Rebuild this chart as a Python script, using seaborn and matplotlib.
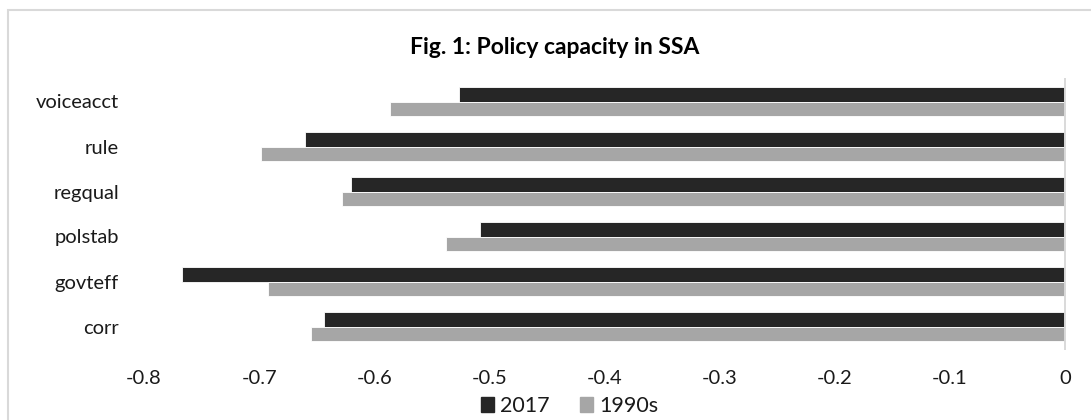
import matplotlib
matplotlib.use("Agg")
import matplotlib.pyplot as plt
import matplotlib.patches as mpatches
import pandas as pd
import seaborn as sns

# Governance indicators (WGI-style scores) for Sub-Saharan Africa
categories = ["voiceacct", "rule", "regqual", "polstab", "govteff", "corr"]
values_2017 = [-0.526, -0.660, -0.620, -0.508, -0.767, -0.644]
values_1990s = [-0.586, -0.698, -0.628, -0.538, -0.692, -0.655]
series_names = ["2017", "1990s"]
series_colors = ["#262626", "#a6a6a6"]
x_ticks = [-0.8, -0.7, -0.6, -0.5, -0.4, -0.3, -0.2, -0.1, 0]
x_tick_labels = ["-0.8", "-0.7", "-0.6", "-0.5", "-0.4", "-0.3", "-0.2", "-0.1", "0"]

df = pd.DataFrame({
    "indicator": categories * 2,
    "score": values_2017 + values_1990s,
    "period": [series_names[0]] * len(categories) + [series_names[1]] * len(categories),
})

sns.set_theme(style="white")
plt.rcParams["font.family"] = ["Lato", "DejaVu Sans"]

fig = plt.figure(figsize=(10.91, 4.2), dpi=100)
ax = fig.add_axes([144 / 1091, 71 / 420, (1065 - 144) / 1091, 270 / 420])

sns.barplot(
    data=df, x="score", y="indicator", hue="period",
    order=categories, hue_order=series_names,
    palette=series_colors, orient="h", width=0.64,
    edgecolor="white", linewidth=0.6, ax=ax, legend=False,
)

ax.set_xlim(-0.8, 0)
ax.set_xticks(x_ticks)
ax.set_xticklabels(x_tick_labels)
ax.set_xlabel("")
ax.set_ylabel("")
ax.tick_params(axis="both", length=0, labelsize=14.5, colors="#1a1a1a")
ax.tick_params(axis="x", pad=15)
ax.tick_params(axis="y", pad=18)

for side in ["left", "top", "bottom"]:
    ax.spines[side].set_visible(False)
ax.spines["right"].set_color("#d9d9d9")
ax.spines["right"].set_linewidth(1.4)

fig.suptitle("Fig. 1: Policy capacity in SSA", x=555 / 1091, y=1 - 47 / 420,
             va="center", fontsize=16.5, fontweight="bold", color="#000000")

handles = [mpatches.Patch(color=c, label=n) for c, n in zip(series_colors, series_names)]
fig.legend(handles=handles, loc="center", bbox_to_anchor=(0.522, 1 - 406 / 420),
           ncol=2, frameon=False, fontsize=15.5, handlelength=0.6, handleheight=0.75,
           handletextpad=0.3, columnspacing=1.4, labelcolor="#1a1a1a",
           borderpad=0.1)

# chart-area frame
fig.patches.append(mpatches.Rectangle((7.5 / 1091, -0.05), 1.2, 1 - 10 / 420 + 0.05,
                                      transform=fig.transFigure, fill=False,
                                      edgecolor="#d9d9d9", linewidth=1.5))

fig.savefig("out.png", dpi=100, facecolor="white")
